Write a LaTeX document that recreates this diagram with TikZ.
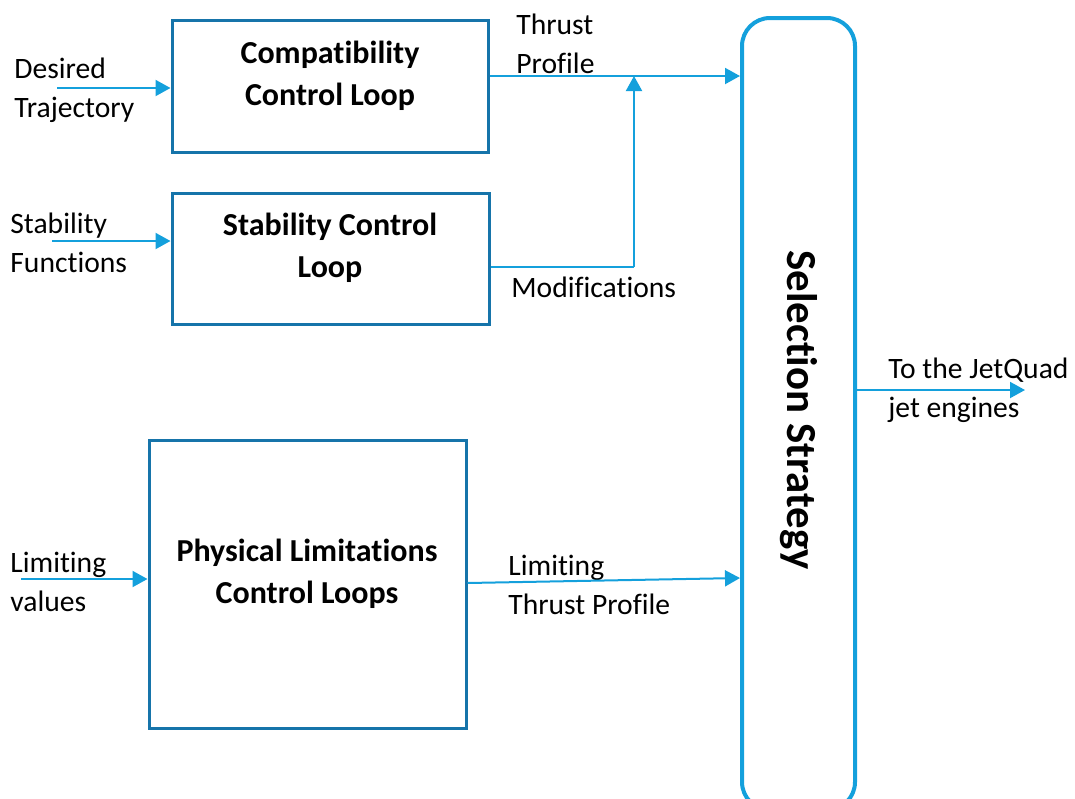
\documentclass[tikz,border=0pt]{standalone}
\usepackage{fontspec}
\setmainfont[Ligatures=NoCommon]{Carlito}
\usetikzlibrary{arrows.meta}
\definecolor{loopblue}{RGB}{22,116,170}
\definecolor{lineblue}{RGB}{20,160,220}
\tikzstyle{loop} = [rectangle, draw=loopblue, line width=1.5pt]
\tikzstyle{looptext} = [align=center, inner sep=0pt, font=\fontsize{16}{21}\selectfont\bfseries]
\tikzstyle{lbl} = [anchor=west, align=left, inner sep=0pt, font=\fontsize{14.8}{19.5}\selectfont]
\tikzstyle{arrow} = [draw=lineblue, line width=1pt, -{Triangle[length=7.5pt,width=8pt]}]
\tikzstyle{plain} = [draw=lineblue, line width=1pt]

\begin{document}
\begin{tikzpicture}[x=0.5pt, y=-0.5pt]
        \useasboundingbox (0,0) rectangle (1075,798);

        \node(compat) [loop, minimum width=158pt, minimum height=66pt] at (330,86) {};
        \node(stab) [loop, minimum width=158.5pt, minimum height=65.5pt] at (330.5,258.5) {};
        \node(phys) [loop, minimum width=158.5pt, minimum height=144pt] at (307.5,584) {};
        \node(sel) [rectangle, rounded corners=14pt, draw=lineblue, line width=2pt, minimum width=56.5pt, minimum height=396pt] at (798.5,414) {};

        \node(compattext) [looptext] at (330,76) {Compatibility\\Control Loop};
        \node(stabtext) [looptext] at (330,248) {Stability Control\\Loop};
        \node(phystext) [looptext] at (307,574) {Physical Limitations\\Control Loops};
        \node(seltext) [rotate=-90, inner sep=0pt, font=\fontsize{21.4}{24}\selectfont\bfseries] at (799,410) {Selection Strategy};

        \node(desired) [lbl] at (14,90) {Desired\\Trajectory};
        \node(stabfn) [lbl] at (10,243) {Stability\\Functions};
        \node(limval) [lbl] at (10,582) {Limiting\\values};
        \node(thrustlbl) [lbl] at (516,44) {Thrust\\Profile};
        \node(modlbl) [lbl] at (511,287) {Modifications};
        \node(limthrust) [lbl] at (508,585) {Limiting\\Thrust Profile};
        \node(outlbl) [lbl] at (888,390) {To the JetQuad\\jet engines};

        \coordinate(desiredin) at (57,88);
        \coordinate(stabin) at (52,241);
        \coordinate(limin) at (21,579);
        \coordinate(join) at (634,76);
        \coordinate(modbend) at (634,267);
        \coordinate(out) at (1025,390);

        \draw[arrow] (desiredin) -- (desiredin -| compat.west);
        \draw[arrow] (stabin) -- (stabin -| stab.west);
        \draw[arrow] (limin) -- (limin -| phys.west);

        \draw[arrow] (compat.east |- join) -- (sel.west |- join);
        \draw[plain] (stab.east |- modbend) -- (modbend);
        \draw[arrow] (modbend) -- (join);
        \draw[arrow] (phys.east |- 0,583) -- (sel.west |- 0,578);
        \draw[arrow] (sel.east |- out) -- (out);
    \end{tikzpicture}
\end{document}
